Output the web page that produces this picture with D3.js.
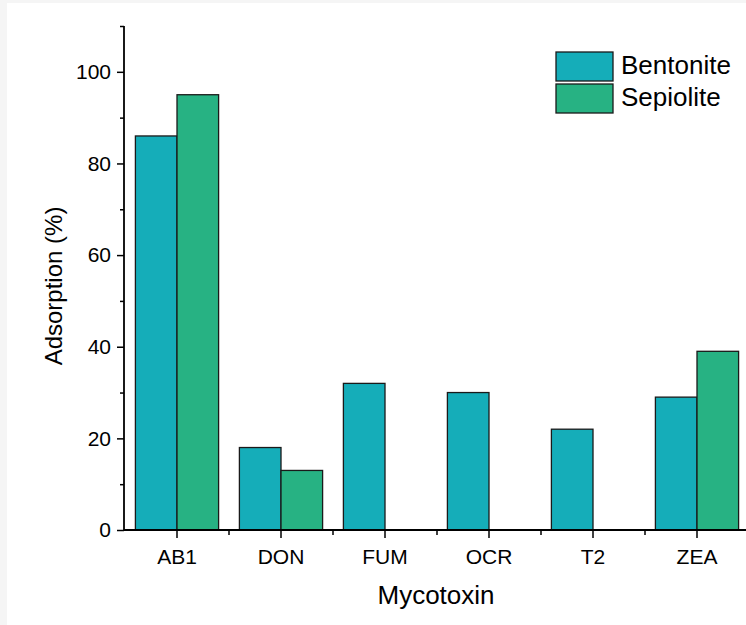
<!DOCTYPE html>
<html>
<head>
<meta charset="utf-8">
<script src="https://cdn.jsdelivr.net/npm/d3@7"></script>
<style>
  body { margin: 0; background: #f5f5f5; }
  svg { display: block; font-family: "Liberation Sans", Arial, sans-serif; }
</style>
</head>
<body>
<svg id="chart"></svg>
<script>
const categories = ["AB1", "DON", "FUM", "OCR", "T2", "ZEA"];
const seriesNames = ["Bentonite", "Sepiolite"];
const bentonite = [86, 18, 32, 30, 22, 29];
const sepiolite = [95, 13, 0, 0, 0, 39];
const yTicks = [0, 20, 40, 60, 80, 100];
const colors = ["#15adb9", "#27b283"];

const width = 746, height = 625;
const svg = d3.select("#chart").attr("width", width).attr("height", height);

svg.append("rect")
    .attr("x", 7).attr("y", 3)
    .attr("width", width - 7).attr("height", height - 3)
    .attr("fill", "#ffffff");

const x = d3.scaleBand()
    .domain(categories)
    .range([125, 749]);
const inner = d3.scaleBand()
    .domain(seriesNames)
    .range([0, x.bandwidth()])
    .paddingOuter(0.25);
const y = d3.scaleLinear()
    .domain([0, 110])
    .range([530, 26]);

const values = [bentonite, sepiolite];

// bars
seriesNames.forEach((name, s) => {
    svg.append("g")
        .selectAll("rect")
        .data(categories.map((c, i) => ({ c: c, v: values[s][i] })).filter(d => d.v > 0))
        .enter()
        .append("rect")
            .attr("x", d => x(d.c) + inner(name))
            .attr("y", d => y(d.v))
            .attr("width", inner.bandwidth())
            .attr("height", d => y(0) - y(d.v))
            .attr("fill", colors[s])
            .attr("stroke", "#1a1a1a")
            .attr("stroke-width", 1.3);
});

// y axis
const yAxis = svg.append("g")
    .attr("transform", "translate(124,0)")
    .call(d3.axisLeft(y).tickValues(yTicks).tickSize(7).tickPadding(6).tickFormat(d3.format("d")));
svg.append("g")
    .attr("transform", "translate(124,0)")
    .call(d3.axisLeft(y).tickValues(d3.range(10, 111, 20)).tickSize(4).tickFormat(""))
    .select(".domain").remove();
yAxis.attr("font-family", null).attr("font-size", null);
yAxis.select(".domain").attr("d", `M0,${y(0)}V${y(110)}`).attr("stroke-width", 1.8);
yAxis.selectAll("text").style("font-size", "21px").attr("fill", "#000");
svg.selectAll(".tick line").attr("stroke-width", 1.5);

// x axis
const xAxis = svg.append("g")
    .attr("transform", "translate(0,530)")
    .call(d3.axisBottom(x).tickSize(8).tickPadding(11));
xAxis.attr("font-family", null).attr("font-size", null);
xAxis.select(".domain").attr("d", `M124,0H${width}`).attr("stroke-width", 1.8);
xAxis.selectAll("text").style("font-size", "21px").attr("fill", "#000");
xAxis.selectAll(".tick line").attr("stroke-width", 1.5);
svg.append("g")
    .attr("transform", "translate(0,530)")
    .selectAll("line")
    .data(categories.slice(1))
    .enter()
    .append("line")
        .attr("x1", d => x(d)).attr("x2", d => x(d))
        .attr("y1", 0).attr("y2", 5)
        .attr("stroke", "#000")
        .attr("stroke-width", 1.5);

// axis titles
svg.append("text")
    .attr("transform", "translate(62,286) rotate(-90)")
    .attr("text-anchor", "middle")
    .style("font-size", "24px")
    .text("Adsorption (%)");
svg.append("text")
    .attr("x", 436).attr("y", 604)
    .attr("text-anchor", "middle")
    .style("font-size", "26px")
    .text("Mycotoxin");

// legend
seriesNames.forEach((name, s) => {
    svg.append("rect")
        .attr("x", 556).attr("y", 52 + s * 32)
        .attr("width", 57).attr("height", 29)
        .attr("fill", colors[s])
        .attr("stroke", "#1a1a1a")
        .attr("stroke-width", 1.3);
    svg.append("text")
        .attr("x", 621).attr("y", 74 + s * 32)
        .style("font-size", "26px")
        .text(name);
});
</script>
</body>
</html>
